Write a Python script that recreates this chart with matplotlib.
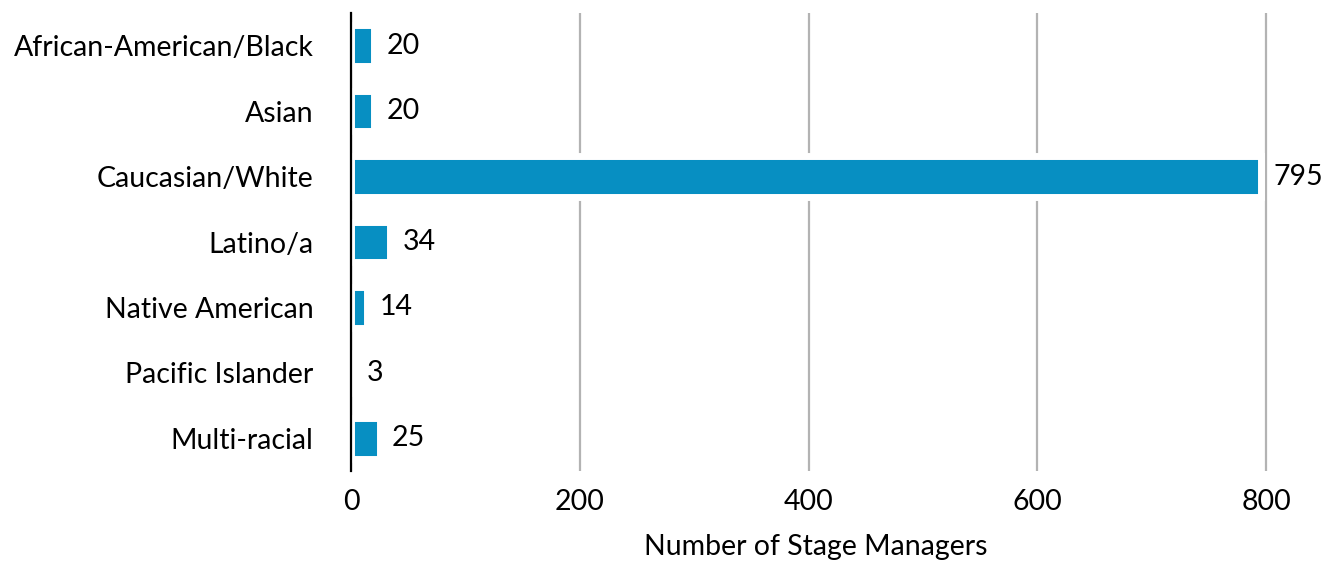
import matplotlib.pyplot as plt

categories = ["African-American/Black", "Asian", "Caucasian/White", "Latino/a",
              "Native American", "Pacific Islander", "Multi-racial"]
counts = [20, 20, 795, 34, 14, 3, 25]
xticks = [0, 200, 400, 600, 800]

plt.rcParams['font.family'] = ['Lato', 'DejaVu Sans']
fs = 20.5

fig = plt.figure(figsize=(13.31, 5.67), dpi=100)
W, H = 1331, 567
ax = fig.add_axes([351 / W, 96 / H, (1280 - 351) / W, (471 - 13) / H])

pos = list(range(len(categories)))
ax.barh(pos, counts, height=0.62, color='#078FC2', edgecolor='white', linewidth=5, zorder=3)

for y, v in zip(pos, counts):
    ax.annotate(str(v), (v, y), xytext=(9, 0), textcoords='offset points',
                va='center', ha='left', fontsize=fs, zorder=4)

ax.set_ylim(len(categories) - 0.5, -0.5)
ax.set_xlim(0, 812)
ax.set_yticks(pos)
ax.set_yticklabels(categories, fontsize=fs)
ax.set_xticks(xticks)
ax.set_xticklabels([str(t) for t in xticks], fontsize=fs)
ax.tick_params(axis='both', length=0)
ax.tick_params(axis='y', pad=27)
ax.tick_params(axis='x', pad=13)

ax.grid(axis='x', color='#b3b3b3', linewidth=1.6, zorder=0)
ax.set_axisbelow(True)
for s in ['top', 'right', 'bottom']:
    ax.spines[s].set_visible(False)
ax.spines['left'].set_linewidth(1.6)
ax.spines['left'].set_zorder(5)

ax.set_xlabel("Number of Stage Managers", fontsize=fs, labelpad=14)

fig.savefig("out.png", dpi=100)
